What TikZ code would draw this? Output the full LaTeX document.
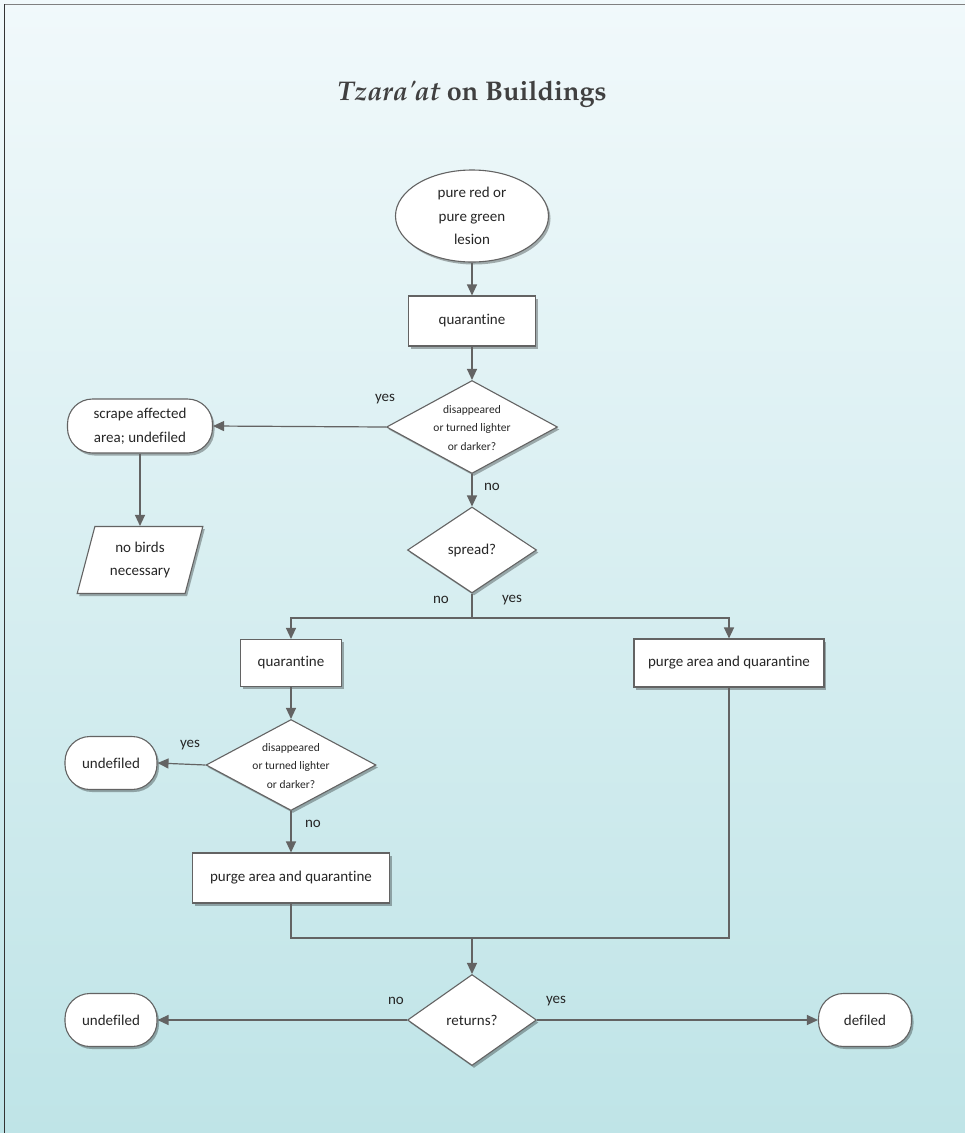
\documentclass[tikz,border=0pt]{standalone}
\usepackage[T1]{fontenc}
\usepackage{fontspec}
\setmainfont{Carlito}[Ligatures=NoCommon]
\usetikzlibrary{shapes.geometric,shadows,arrows.meta}
\definecolor{linegray}{HTML}{636363}
\definecolor{bgtop}{HTML}{F1F9FB}
\definecolor{bgbot}{HTML}{BFE4E7}
\newcommand{\titlefont}{\fontsize{27}{32}\fontencoding{T1}\fontfamily{ppl}\fontseries{b}\selectfont}
\newcommand{\bodyfont}{\fontsize{15}{23.5}\selectfont}
\newcommand{\smallfont}{\fontsize{11.5}{18.5}\selectfont}
\newcommand{\qtext}[1]{\smash{\raisebox{-4pt}{\begin{tabular}{@{}c@{}}#1\end{tabular}}}}

\begin{document}
\begin{tikzpicture}[x=1pt,y=-1pt]
  \tikzset{shade/.style={drop shadow={shadow xshift=2pt,shadow yshift=-2.5pt,opacity=0.3,fill=black}},
           box/.style={draw=linegray,line width=1.1pt,fill=white,shade,align=center,inner sep=0pt,text=black!85,font=\bodyfont},
           proc/.style={box,rectangle},
           term/.style={box,rectangle,rounded corners=25pt},
           quest/.style={box,diamond,font=\smallfont},
           lbl/.style={text=black!85,font=\fontsize{15}{17}\selectfont},
           flow/.style={draw=linegray,line width=1.2pt,-{Triangle[length=11pt,width=10pt]}},
           link/.style={draw=linegray,line width=1.2pt}}
  \useasboundingbox (0,0) rectangle (965,1133);
  \shade[top color=bgtop,bottom color=bgbot] (0,0) rectangle (965,1133);
  \draw[gray,line width=1pt] (4,4) -- (965,4);
  \draw[black!80,line width=1.2pt] (4.5,4) -- (4.5,1133);

  \node[text=black!75,font=\titlefont] (ttl) at (472,94) {{\itshape Tzara\textquotesingle at} on Buildings};

  \node[box,ellipse,minimum width=153,minimum height=92] (lesion) at (472,216) {pure red or\\pure green\\lesion};
  \node[proc,minimum width=127,minimum height=50] (quar1) at (472,321) {quarantine};
  \node[quest,minimum width=171,minimum height=93] (dis1) at (472,427) {\qtext{disappeared\\or turned lighter\\or darker?}};
  \node[term,minimum width=145,minimum height=54] (scrape) at (140,426) {scrape affected\\area; undefiled};
  \node[box,trapezium,trapezium left angle=72,trapezium right angle=108,trapezium stretches=true,
        minimum width=126,minimum height=67] (birds) at (140,560) {no birds\\necessary};
  \node[quest,font=\bodyfont,minimum width=129,minimum height=86] (spread) at (472,550) {spread?};
  \node[proc,minimum width=101,minimum height=47] (quar2) at (291,663) {quarantine};
  \node[proc,minimum width=190,minimum height=48] (purgeR) at (729,663) {purge area and quarantine};
  \node[quest,minimum width=170,minimum height=91] (dis2) at (291,765) {\qtext{disappeared\\or turned lighter\\or darker?}};
  \node[term,minimum width=92,minimum height=53] (clean1) at (111,763) {undefiled};
  \node[proc,minimum width=197,minimum height=50] (purgeL) at (291,878) {purge area and quarantine};
  \node[quest,font=\bodyfont,minimum width=129,minimum height=91] (returns) at (472,1020) {returns?};
  \node[term,minimum width=92,minimum height=53] (clean2) at (111,1020) {undefiled};
  \node[term,minimum width=93,minimum height=53] (defiled) at (865,1020) {defiled};

  \coordinate (split) at (472,618);
  \coordinate (join) at (472,938);

  \draw[flow] (lesion) -- (quar1);
  \draw[flow] (quar1.south) -- (dis1.north);
  \draw[flow] (dis1.west) -- (scrape.east);
  \draw[flow] (scrape) -- (birds);
  \draw[flow] (dis1) -- (spread);
  \draw[link] (spread) -- (split);
  \draw[flow] (split) -| (quar2);
  \draw[flow] (split) -| (purgeR);
  \draw[flow] (quar2) -- (dis2);
  \draw[flow] (dis2.west) -- (clean1.east);
  \draw[flow] (dis2) -- (purgeL);
  \draw[link] (purgeL) |- (join);
  \draw[link] (purgeR) |- (join);
  \draw[flow] (join) -- (returns);
  \draw[flow] (returns) -- (clean2);
  \draw[flow] (returns) -- (defiled);

  \node[lbl] (yes1) at (385,399) {yes};
  \node[lbl] (no1) at (492,487) {no};
  \node[lbl] (no2) at (441,600) {no};
  \node[lbl] (yes2) at (512,600) {yes};
  \node[lbl] (yes3) at (190,745) {yes};
  \node[lbl] (no3) at (313,824) {no};
  \node[lbl] (no4) at (396,1001) {no};
  \node[lbl] (yes4) at (556,1001) {yes};
\end{tikzpicture}
\end{document}
